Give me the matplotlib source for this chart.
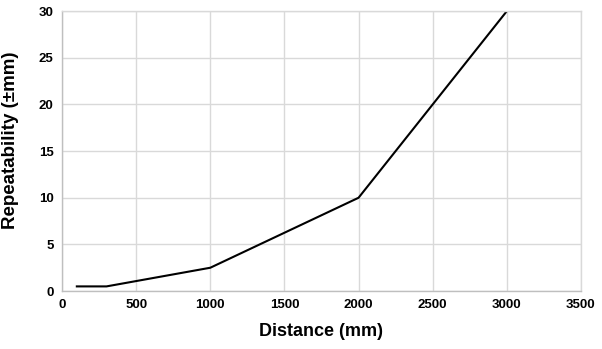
import matplotlib
matplotlib.use('Agg')
import matplotlib.pyplot as plt

distance = [100, 300, 1000, 2000, 3000]
repeatability = [0.5, 0.5, 2.5, 10, 30]
x_ticks = [0, 500, 1000, 1500, 2000, 2500, 3000, 3500]
y_ticks = [0, 5, 10, 15, 20, 25, 30]

plt.rcParams['font.family'] = ['Liberation Sans Narrow', 'Liberation Sans', 'DejaVu Sans']

fig = plt.figure(figsize=(6.02, 3.49), dpi=100)
ax = fig.add_axes([0.103, 0.166, 0.862, 0.802])

ax.plot(distance, repeatability, color='black', lw=1.5, solid_joinstyle='miter')

ax.set_xlim(0, 3500)
ax.set_ylim(0, 30)
ax.set_xticks(x_ticks)
ax.set_yticks(y_ticks)
ax.grid(True, color='#d9d9d9', lw=1)
ax.set_axisbelow(True)
for s in ax.spines.values():
    s.set_color('#d9d9d9')
    s.set_linewidth(1)
ax.spines['left'].set_color('#bfbfbf')
ax.spines['bottom'].set_color('#bfbfbf')
ax.tick_params(length=0, pad=6, labelsize=9.5)
for lbl in ax.get_xticklabels() + ax.get_yticklabels():
    lbl.set_fontweight('bold')

ax.set_xlabel('Distance (mm)', fontsize=13, fontweight='bold')
ax.set_ylabel('Repeatability (±mm)', fontsize=13.5, fontweight='bold')
ax.xaxis.set_label_coords(0.5, -0.115)
ax.yaxis.set_label_coords(-0.082, 0.54)

fig.savefig('out.png', dpi=100)
